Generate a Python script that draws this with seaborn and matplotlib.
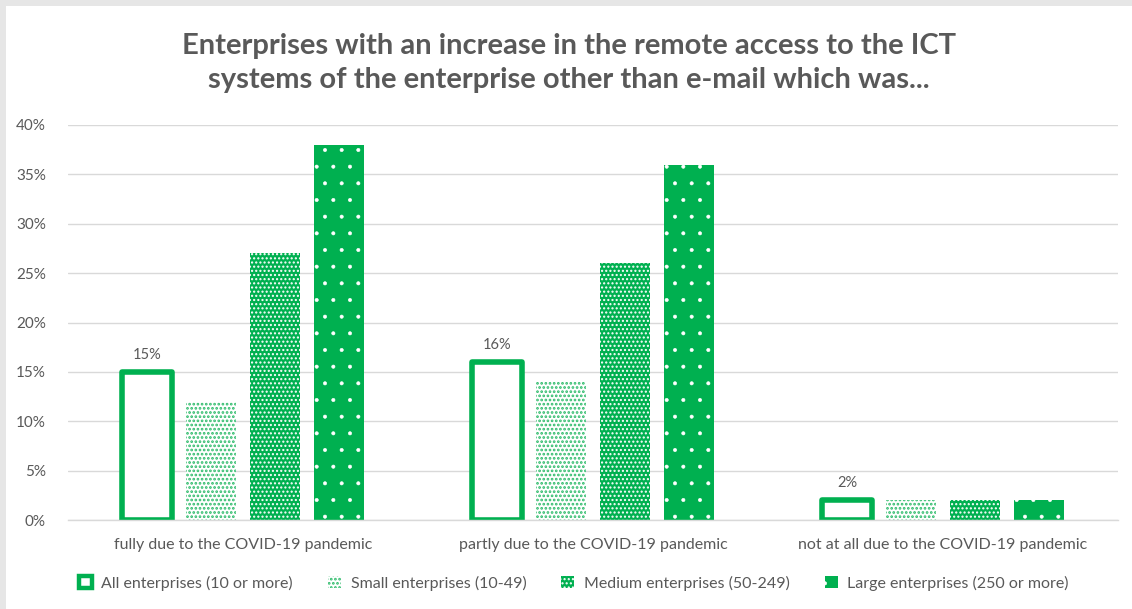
import matplotlib
matplotlib.use("Agg")
import matplotlib.pyplot as plt
import matplotlib.patches as mpatches
import seaborn as sns
import pandas as pd

categories = ["fully due to the COVID-19 pandemic",
              "partly due to the COVID-19 pandemic",
              "not at all due to the COVID-19 pandemic"]
series_names = ["All enterprises (10 or more)",
                "Small enterprises (10-49)",
                "Medium enterprises (50-249)",
                "Large enterprises (250 or more)"]
all_ent = [15, 16, 2]
small_ent = [12, 14, 2]
medium_ent = [27, 26, 2]
large_ent = [38, 36, 2]
y_ticks = [0, 5, 10, 15, 20, 25, 30, 35, 40]
title = ("Enterprises with an increase in the remote access to the ICT\n"
         "systems of the enterprise other than e-mail which was...")

rows = []
for name, vals in zip(series_names, [all_ent, small_ent, medium_ent, large_ent]):
    for cat, v in zip(categories, vals):
        rows.append({"category": cat, "series": name, "value": v})
df = pd.DataFrame(rows)

sns.set_theme(style="white")
plt.rcParams["font.family"] = ["Lato", "DejaVu Sans"]

GREEN = "#00b050"
TXT = "#595959"


def set_hatch_lw(patch, lw):
    if hasattr(patch, "set_hatch_linewidth"):
        patch.set_hatch_linewidth(lw)
    else:
        patch._hatch_linewidth = lw


fig = plt.figure(figsize=(11.32, 6.09), dpi=100, facecolor="#e6e6e6")
# white chart area inside a thin grey frame
fig.patches.append(mpatches.Rectangle((6 / 1132, 0), 1, 1 - 6 / 609,
                                      transform=fig.transFigure,
                                      facecolor="white", edgecolor="none", zorder=-10))
ax = fig.add_axes([68 / 1132, 1 - 520 / 609, (1118 - 68) / 1132, (520 - 125) / 609])
ax.set_facecolor("none")

sns.barplot(data=df, x="category", y="value", hue="series", order=categories,
            hue_order=series_names, width=0.73, gap=0.22, ax=ax,
            legend=False, errorbar=None)

styles = [
    dict(facecolor="white", edgecolor=GREEN, linewidth=4.0, hatch=None, hlw=1.0),
    dict(facecolor="white", edgecolor="#2dbb6a", linewidth=0, hatch="....", hlw=1.3),
    dict(facecolor=GREEN, edgecolor="#ffffff", linewidth=0, hatch="....", hlw=1.0),
    dict(facecolor=GREEN, edgecolor="#ffffff", linewidth=0, hatch=".", hlw=0.4),
]
for container, st in zip(ax.containers, styles):
    for bar in container:
        bar.set_facecolor(st["facecolor"])
        bar.set_edgecolor(st["edgecolor"])
        bar.set_linewidth(st["linewidth"])
        if st["hatch"]:
            bar.set_hatch(st["hatch"])
            set_hatch_lw(bar, st["hlw"])
        bar.set_joinstyle("round")
    if st["hatch"] is None:
        for bar, v in zip(container, all_ent):
            ax.text(bar.get_x() + bar.get_width() / 2, v + 1.0, f"{v}%",
                    ha="center", va="bottom", fontsize=10.5, color=TXT)

ax.set_ylim(0, 40)
ax.set_yticks(y_ticks)
ax.set_yticklabels([f"{t}%" for t in y_ticks])
ax.yaxis.grid(True, color="#d9d9d9", linewidth=1)
ax.set_axisbelow(True)
for s in ["top", "right", "left"]:
    ax.spines[s].set_visible(False)
ax.spines["bottom"].set_color("#d9d9d9")
ax.spines["bottom"].set_linewidth(1)
ax.tick_params(axis="both", length=0, colors=TXT)
ax.tick_params(axis="x", pad=13, labelsize=11.5)
ax.tick_params(axis="y", pad=16, labelsize=11)
ax.set_xlabel("")
ax.set_ylabel("")

fig.text(0.5 + 3 / 1132, 1 - 63 / 609, title, ha="center", va="center",
         fontsize=21, fontweight="bold", color=TXT, linespacing=1.4)

handles = []
for st in styles:
    h = mpatches.Patch(facecolor=st["facecolor"], edgecolor=st["edgecolor"],
                       linewidth=min(st["linewidth"], 3.2), hatch=st["hatch"])
    handles.append(h)
leg = fig.legend(handles, series_names, loc="center", bbox_to_anchor=(0.507, 1 - 583 / 609),
                 ncol=4, frameon=False, fontsize=11.5, labelcolor=TXT,
                 handlelength=0.8, handleheight=0.8, columnspacing=2.2, handletextpad=0.6)
for h, st in zip(leg.get_patches(), styles):
    set_hatch_lw(h, st["hlw"])

fig.savefig("out.png", dpi=100, facecolor=fig.get_facecolor())
